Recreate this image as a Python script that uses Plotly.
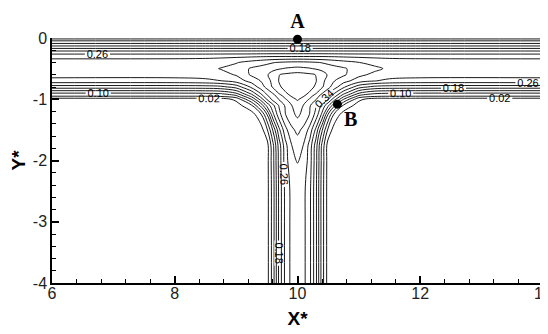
import plotly.graph_objects as go

# grid of the field (x*, y*)
x_star = [6.0, 8.0, 8.5, 8.75, 9.0, 9.25, 9.4, 9.5, 9.6, 9.7, 9.8, 9.9, 10.0,
          10.1, 10.2, 10.3, 10.4, 10.5, 10.6, 10.75, 11.0, 11.25, 11.5, 12.0, 14.0]
y_star = [0.0, -0.05, -0.1, -0.2, -0.3, -0.4, -0.5, -0.6, -0.7, -0.8, -0.9, -0.95,
          -1.0, -1.1, -1.25, -1.5, -1.75, -2.0, -2.25, -2.5, -3.0, -4.0]

field = [
    [0] * 25,
    [0.065] * 25,
    [0.11] * 25,
    [0.21] * 25,
    [0.29, 0.29, 0.29, 0.291, 0.292, 0.294, 0.296, 0.297, 0.298, 0.298, 0.298, 0.298, 0.298,
     0.298, 0.298, 0.298, 0.298, 0.297, 0.296, 0.294, 0.292, 0.291, 0.29, 0.29, 0.29],
    [0.315, 0.316, 0.32, 0.325, 0.337, 0.355, 0.365, 0.372, 0.378, 0.383, 0.387, 0.389, 0.39,
     0.389, 0.387, 0.383, 0.378, 0.372, 0.365, 0.355, 0.341, 0.327, 0.32, 0.316, 0.315],
    [0.322, 0.322, 0.328, 0.342, 0.356, 0.385, 0.393, 0.398, 0.408, 0.416, 0.423, 0.427, 0.43,
     0.427, 0.423, 0.416, 0.408, 0.398, 0.393, 0.385, 0.362, 0.35, 0.332, 0.322, 0.322],
    [0.315, 0.315, 0.318, 0.326, 0.343, 0.386, 0.403, 0.415, 0.44, 0.459, 0.468, 0.473, 0.476,
     0.473, 0.468, 0.459, 0.44, 0.415, 0.403, 0.386, 0.35, 0.33, 0.319, 0.315, 0.315],
    [0.285, 0.285, 0.29, 0.299, 0.318, 0.355, 0.381, 0.398, 0.435, 0.462, 0.472, 0.478, 0.481,
     0.478, 0.472, 0.462, 0.435, 0.398, 0.381, 0.355, 0.32, 0.302, 0.29, 0.285, 0.285],
    [0.20, 0.20, 0.202, 0.208, 0.235, 0.308, 0.358, 0.392, 0.425, 0.455, 0.47, 0.478, 0.482,
     0.478, 0.47, 0.455, 0.425, 0.392, 0.358, 0.308, 0.235, 0.208, 0.202, 0.20, 0.20],
    [0.10, 0.10, 0.102, 0.108, 0.141, 0.235, 0.304, 0.35, 0.383, 0.425, 0.456, 0.47, 0.476,
     0.47, 0.456, 0.425, 0.383, 0.35, 0.304, 0.235, 0.141, 0.108, 0.102, 0.10, 0.10],
    [0.06, 0.06, 0.061, 0.066, 0.088, 0.19, 0.274, 0.33, 0.362, 0.398, 0.435, 0.462, 0.47,
     0.462, 0.435, 0.398, 0.362, 0.33, 0.274, 0.19, 0.088, 0.066, 0.061, 0.06, 0.06],
    [0, 0, 0, 0, 0.03, 0.141, 0.236, 0.301, 0.355, 0.383, 0.415, 0.445, 0.465,
     0.445, 0.415, 0.383, 0.355, 0.301, 0.236, 0.141, 0.03, 0, 0, 0, 0],
    [0, 0, 0, 0, 0, 0.055, 0.15, 0.23, 0.29, 0.345, 0.385, 0.418, 0.44,
     0.418, 0.385, 0.345, 0.29, 0.23, 0.15, 0.055, 0, 0, 0, 0, 0],
    [0, 0, 0, 0, 0, 0, 0.05, 0.135, 0.25, 0.325, 0.378, 0.408, 0.428,
     0.408, 0.378, 0.325, 0.25, 0.135, 0.05, 0, 0, 0, 0, 0, 0],
    [0, 0, 0, 0, 0, 0, 0, 0.05, 0.145, 0.25, 0.325, 0.37, 0.39,
     0.37, 0.325, 0.25, 0.145, 0.05, 0, 0, 0, 0, 0, 0, 0],
    [0, 0, 0, 0, 0, 0, 0, 0, 0.09, 0.2, 0.285, 0.338, 0.36,
     0.338, 0.285, 0.2, 0.09, 0, 0, 0, 0, 0, 0, 0, 0],
    [0, 0, 0, 0, 0, 0, 0, 0, 0.085, 0.195, 0.28, 0.33, 0.343,
     0.33, 0.28, 0.195, 0.085, 0, 0, 0, 0, 0, 0, 0, 0],
    [0, 0, 0, 0, 0, 0, 0, 0, 0.082, 0.192, 0.275, 0.315, 0.325,
     0.315, 0.275, 0.192, 0.082, 0, 0, 0, 0, 0, 0, 0, 0],
    [0, 0, 0, 0, 0, 0, 0, 0, 0.08, 0.19, 0.27, 0.31, 0.318,
     0.31, 0.27, 0.19, 0.08, 0, 0, 0, 0, 0, 0, 0, 0],
    [0, 0, 0, 0, 0, 0, 0, 0, 0.08, 0.19, 0.27, 0.31, 0.318,
     0.31, 0.27, 0.19, 0.08, 0, 0, 0, 0, 0, 0, 0, 0],
    [0, 0, 0, 0, 0, 0, 0, 0, 0.08, 0.19, 0.27, 0.31, 0.318,
     0.31, 0.27, 0.19, 0.08, 0, 0, 0, 0, 0, 0, 0, 0],
]

# contour levels: labelled ones every 0.08, the rest in between
labelled_levels = (0.02, 0.34, 0.08)
plain_levels = (0.06, 0.46, 0.08)
inner_levels = (0.42, 0.42, 0.08)

point_names = ["A", "B"]
point_x = [10.0, 10.65]
point_y = [-0.02, -1.08]

x_ticks = [6, 8, 10, 12, 14]
y_ticks = [-4, -3, -2, -1, 0]
y_ticktext = ["-4", "-3", "-2", "-1", "0"]

black = [[0, "black"], [1, "black"]]


def contour(levels, labels):
    start, end, size = levels
    return go.Contour(
        x=x_star, y=y_star, z=field,
        autocontour=False,
        contours=dict(coloring="lines", start=start, end=end, size=size,
                      showlabels=labels,
                      labelfont=dict(size=11, color="black",
                                     family="Liberation Sans, Arial"),
                      labelformat=".2f"),
        line=dict(width=0.9, smoothing=1.0),
        colorscale=black, showscale=False, hoverinfo="skip",
    )


fig = go.Figure()
fig.add_trace(contour(plain_levels, False))
fig.add_trace(contour(inner_levels, False))
fig.add_trace(contour(labelled_levels, True))

fig.add_trace(go.Scatter(
    x=point_x, y=point_y, mode="markers+text", text=point_names,
    textposition=["top center", "bottom right"],
    marker=dict(size=9, color="black"),
    textfont=dict(family="Liberation Serif, Times New Roman", size=20, color="black",
                  weight="bold"),
    cliponaxis=False, hoverinfo="skip",
))

axis_font = dict(family="Liberation Sans, Arial", size=16, color="#222")
title_font = dict(family="Liberation Sans, Arial", size=19, color="black", weight="bold")

fig.update_xaxes(
    range=[6, 14], tickvals=x_ticks, ticks="inside", ticklen=7, tickwidth=1.5,
    tickcolor="black", showline=True, linewidth=1.5, linecolor="black",
    showgrid=False, zeroline=False, tickfont=axis_font, automargin=False,
    ticklabelstandoff=-5, ticklabeloverflow="allow",
    minor=dict(dtick=0.4, tick0=6, ticks="inside", ticklen=4, tickwidth=1, tickcolor="black"),
    title=dict(text="X*", font=title_font, standoff=11),
)
fig.update_yaxes(
    range=[-4, 0], tickvals=y_ticks, ticktext=y_ticktext, ticks="inside", ticklen=7,
    tickwidth=1.5, tickcolor="black", showline=True, linewidth=1.5, linecolor="black",
    showgrid=False, zeroline=False, tickfont=axis_font, automargin=False,
    minor=dict(dtick=0.2, tick0=0, ticks="inside", ticklen=4, tickwidth=1, tickcolor="black"),
    title=dict(text="Y*", font=title_font, standoff=4),
)
# the page body adds an 8 px margin, so the figure is 8 px smaller each way
fig.update_layout(
    width=540, height=326, margin=dict(l=44, r=5, t=30, b=51),
    plot_bgcolor="white", paper_bgcolor="white", showlegend=False,
)

fig.write_html("out.html")
